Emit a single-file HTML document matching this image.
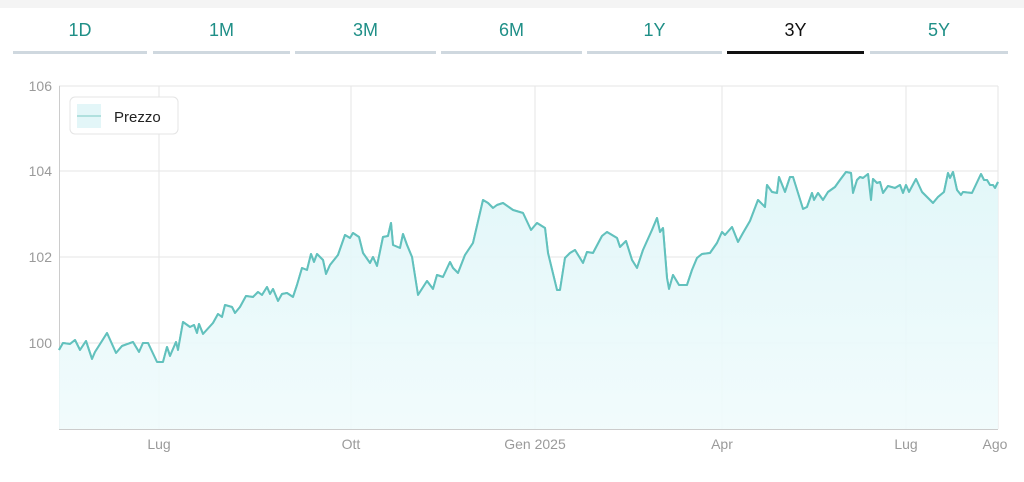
<!DOCTYPE html>
<html><head><meta charset="utf-8"><style>
body{margin:0;width:1024px;height:482px;background:#fff;font-family:"Liberation Sans",sans-serif;overflow:hidden;position:relative}
.top{position:absolute;left:0;top:0;width:1024px;height:8px;background:#f4f4f4}
.tab{position:absolute;top:17px;height:37px;text-align:center;font-size:18px;color:#1f8f87;line-height:26px}
.tab:after{content:"";position:absolute;left:0;right:0;bottom:0;height:3px;background:#cfd8df}
.tab.act{color:#111}.tab.act:after{background:#111}
</style></head><body>
<div class="top"></div>
<div class="tab" style="left:13px;width:134px">1D</div>
<div class="tab" style="left:153px;width:137px">1M</div>
<div class="tab" style="left:295px;width:141px">3M</div>
<div class="tab" style="left:441px;width:141px">6M</div>
<div class="tab" style="left:587px;width:135px">1Y</div>
<div class="tab act" style="left:727px;width:137px">3Y</div>
<div class="tab" style="left:870px;width:138px">5Y</div>
<svg width="1024" height="482" style="position:absolute;left:0;top:0">
<defs><linearGradient id="g" x1="0" y1="0" x2="0" y2="1"><stop offset="0" stop-color="#dff6f8"/><stop offset="1" stop-color="#f0fbfc"/></linearGradient></defs>
<g stroke="#e6e6e6" stroke-width="1">
<line x1="59" y1="86" x2="998" y2="86"/><line x1="59" y1="171" x2="998" y2="171"/><line x1="59" y1="257" x2="998" y2="257"/><line x1="59" y1="343" x2="998" y2="343"/>
<line x1="159" y1="86" x2="159" y2="429"/><line x1="351" y1="86" x2="351" y2="429"/><line x1="535" y1="86" x2="535" y2="429"/><line x1="722" y1="86" x2="722" y2="429"/><line x1="906" y1="86" x2="906" y2="429"/><line x1="998" y1="86" x2="998" y2="429"/>
</g>
<line x1="59.5" y1="86" x2="59.5" y2="429" stroke="#ccc"/>
<line x1="59" y1="429.5" x2="998" y2="429.5" stroke="#ccc"/>
<g font-size="14" fill="#9a9a9a" text-anchor="end"><text x="52" y="91">106</text><text x="52" y="176">104</text><text x="52" y="262">102</text><text x="52" y="348">100</text></g>
<g font-size="14" fill="#9a9a9a" text-anchor="middle"><text x="159" y="449">Lug</text><text x="351" y="449">Ott</text><text x="535" y="449">Gen 2025</text><text x="722" y="449">Apr</text><text x="906" y="449">Lug</text><text x="995" y="449">Ago</text></g>
<path id="p" d="M59,350 L63,343 70,344 75,340 80,350 86,341 92,359 95,352 102,341 107,333 116,353 122,346 133,342 139,352 143,343 148,343 157,362 163,362 167,347 170,356 176,342 178,350 183,322 190,327 194,325 197,333 199,324 203,334 213,323 218,314 222,317 225,305 232,307 235,313 240,307 246,296 253,297 258,292 262,295 267,287 270,294 273,289 278,301 282,294 287,293 293,297 297,285 302,268 307,270 311,254 314,262 317,254 323,260 326,274 330,265 338,255 345,235 350,238 353,233 359,237 363,253 370,263 373,257 377,266 383,237 388,236 391,223 393,245 400,248 403,234 407,245 412,257 418,295 427,281 433,289 437,275 443,277 450,262 453,268 458,273 465,255 473,243 483,200 488,203 493,208 497,205 503,203 513,210 523,213 531,230 537,223 545,228 548,253 557,290 560,290 565,258 570,253 575,250 583,263 587,252 593,253 602,236 607,232 617,238 620,247 626,241 632,260 637,268 643,250 652,230 657,218 660,232 663,228 667,278 669,289 673,275 679,285 687,285 692,270 697,258 702,254 710,253 717,243 722,232 725,235 732,227 738,242 743,233 750,221 758,200 765,207 767,185 772,192 777,193 779,177 785,192 790,177 793,177 803,209 807,207 812,193 814,200 818,193 823,200 828,192 835,187 840,180 846,172 851,173 853,193 857,180 860,177 863,178 868,174 871,200 873,179 877,183 880,182 883,193 888,186 895,188 900,185 903,193 906,185 909,192 916,179 922,192 933,203 938,197 944,192 948,173 950,178 953,172 957,190 961,195 963,192 972,193 981,174 984,180 987,180 990,185 993,185 995,188 998,182" fill="none" stroke="#62c1bd" stroke-width="2" stroke-linejoin="round"/>
<path d="M59,350 L63,343 70,344 75,340 80,350 86,341 92,359 95,352 102,341 107,333 116,353 122,346 133,342 139,352 143,343 148,343 157,362 163,362 167,347 170,356 176,342 178,350 183,322 190,327 194,325 197,333 199,324 203,334 213,323 218,314 222,317 225,305 232,307 235,313 240,307 246,296 253,297 258,292 262,295 267,287 270,294 273,289 278,301 282,294 287,293 293,297 297,285 302,268 307,270 311,254 314,262 317,254 323,260 326,274 330,265 338,255 345,235 350,238 353,233 359,237 363,253 370,263 373,257 377,266 383,237 388,236 391,223 393,245 400,248 403,234 407,245 412,257 418,295 427,281 433,289 437,275 443,277 450,262 453,268 458,273 465,255 473,243 483,200 488,203 493,208 497,205 503,203 513,210 523,213 531,230 537,223 545,228 548,253 557,290 560,290 565,258 570,253 575,250 583,263 587,252 593,253 602,236 607,232 617,238 620,247 626,241 632,260 637,268 643,250 652,230 657,218 660,232 663,228 667,278 669,289 673,275 679,285 687,285 692,270 697,258 702,254 710,253 717,243 722,232 725,235 732,227 738,242 743,233 750,221 758,200 765,207 767,185 772,192 777,193 779,177 785,192 790,177 793,177 803,209 807,207 812,193 814,200 818,193 823,200 828,192 835,187 840,180 846,172 851,173 853,193 857,180 860,177 863,178 868,174 871,200 873,179 877,183 880,182 883,193 888,186 895,188 900,185 903,193 906,185 909,192 916,179 922,192 933,203 938,197 944,192 948,173 950,178 953,172 957,190 961,195 963,192 972,193 981,174 984,180 987,180 990,185 993,185 995,188 998,182 L998,429 L59,429 Z" fill="url(#g)" opacity="0.9"/>
<use href="#p"/>
<rect x="70" y="97" width="108" height="37" rx="5" fill="#fff" stroke="#e4e4e4"/>
<rect x="77" y="104" width="24" height="24" fill="#e3f6f8"/>
<line x1="77" y1="116" x2="101" y2="116" stroke="#9fd9d6" stroke-width="1.5"/>
<text x="114" y="122" font-size="15" fill="#222">Prezzo</text>
</svg>
</body></html>
